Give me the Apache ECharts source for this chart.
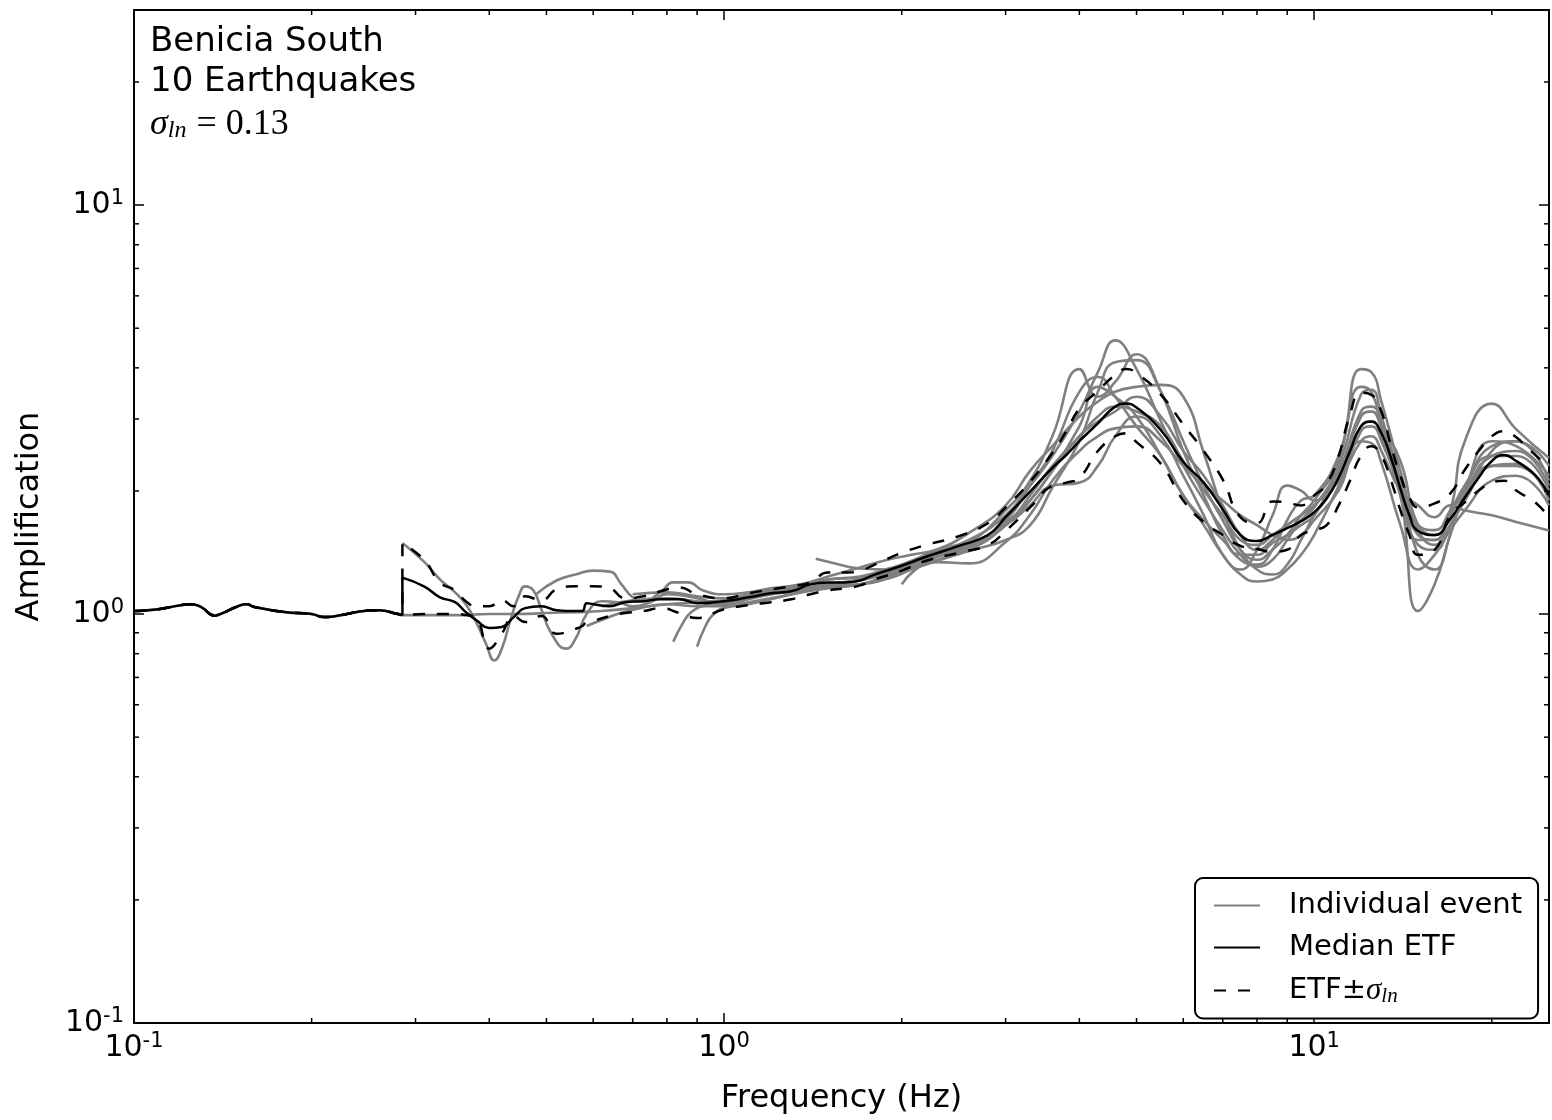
<!DOCTYPE html>
<html><head><meta charset="utf-8">
<script src="https://cdn.jsdelivr.net/npm/echarts@6/dist/echarts.min.js"></script>
<style>html,body{margin:0;padding:0;background:#fff}#c{width:1552px;height:1120px}</style>
</head><body><div id="c"></div>
<script>
// ---------- data ----------
const lowFreq = [0.1,0.11,0.12,0.125,0.13,0.137,0.14,0.15,0.155,0.16,0.18,0.2,0.21,0.22,0.25,0.26,0.28,0.285];
const lowAmp  = [1.017,1.028,1.051,1.057,1.040,0.991,1.000,1.045,1.057,1.040,1.011,1.000,0.983,0.989,1.020,1.022,1.000,0.994];

const etfFreq = [0.285,0.31,0.33,0.35,0.365,0.38,0.40,0.42,0.44,0.46,0.49,0.52,0.56,0.575,0.585,0.6,0.64,0.68,0.73,0.78,0.84,0.9,1.0,1.1,1.2,1.3,1.4,1.5,1.6,1.7,1.8,2.0,2.2,2.5,2.8,3.0,3.3,3.6,3.8,4.0,4.3,4.6,4.8,5.0,5.5,6.0,6.5,7.0,7.5,8.0,8.5,9.0,9.5,10,10.5,11,11.5,12,12.5,13,13.5,14,14.5,15,16,17,18,19,20,21,22,23,24,25];
const medianAmp = [1.228,1.169,1.099,1.069,1.011,0.967,0.925,0.930,0.983,1.034,1.045,1.022,1.017,1.017,1.063,1.057,1.045,1.069,1.075,1.087,1.087,1.063,1.075,1.099,1.124,1.137,1.182,1.195,1.195,1.208,1.249,1.313,1.381,1.468,1.561,1.725,1.993,2.278,2.448,2.647,2.926,3.216,3.271,3.199,2.814,2.355,2.096,1.803,1.561,1.509,1.561,1.623,1.687,1.774,1.917,2.154,2.504,2.877,2.958,2.768,2.408,2.027,1.744,1.596,1.561,1.706,1.928,2.154,2.368,2.448,2.368,2.266,2.142,1.949];
const upperAmp = [1.492,1.358,1.195,1.143,1.075,1.045,1.045,1.081,1.045,1.105,1.081,1.149,1.169,1.169,1.169,1.169,1.156,1.093,1.105,1.137,1.162,1.118,1.093,1.124,1.149,1.169,1.195,1.263,1.263,1.277,1.321,1.412,1.476,1.551,1.668,1.823,2.107,2.476,2.798,3.180,3.516,3.842,3.972,3.885,3.437,2.909,2.504,2.131,1.725,1.668,1.885,1.875,1.844,1.949,2.084,2.435,3.076,3.476,3.437,3.128,2.574,2.179,1.928,1.823,1.865,1.971,2.253,2.504,2.721,2.798,2.706,2.546,2.408,2.278];
const lowerAmp = [0.994,1.000,1.000,1.000,0.994,0.978,0.823,0.895,0.989,0.956,0.989,0.895,0.920,0.935,0.956,0.962,0.989,1.006,1.017,1.034,1.006,0.978,1.028,1.051,1.069,1.087,1.118,1.143,1.156,1.175,1.215,1.277,1.350,1.412,1.476,1.596,1.823,2.061,2.096,2.154,2.504,2.721,2.768,2.632,2.329,1.896,1.677,1.561,1.468,1.443,1.420,1.436,1.561,1.604,1.650,1.844,2.119,2.435,2.574,2.435,2.119,1.793,1.561,1.396,1.436,1.744,1.875,2.004,2.096,2.119,2.004,1.928,1.844,1.725];

// individual events: low-frequency part + values on a shared grid from 1 Hz
const evHfFreq = [1.0,1.1,1.2,1.35,1.5,1.7,1.9,2.1,2.3,2.6,3.0,3.3,3.6,4.0,4.3,4.6,5.0,5.5,6.0,6.5,7.0,7.5,8.0,8.5,9.0,9.5,10,11,12,12.5,13,14,15,16,17,18,20,22,25];

const ev1LowF = [0.3,0.35,0.4,0.45,0.5,0.56,0.62,0.7,0.8,0.9];
const ev1LowA = [0.994,0.994,1.0,1.0,1.006,1.011,1.017,1.034,1.057,1.069];
const ev1Hf = [1.081,1.105,1.130,1.169,1.215,1.235,1.292,1.350,1.427,1.518,1.744,2.061,2.435,3.128,3.906,4.668,3.972,2.958,2.303,1.896,1.604,1.396,1.306,1.358,1.518,1.696,1.823,2.303,3.438,3.535,3.042,2.119,1.396,1.285,1.560,2.004,2.647,2.574,2.179];

const ev2LowF = [0.285,0.31,0.33,0.35,0.365,0.38,0.395,0.408,0.42,0.435,0.45,0.46,0.475,0.49,0.51,0.54,0.56,0.585,0.62,0.66,0.7,0.75,0.8,0.9];
const ev2LowA = [1.492,1.343,1.215,1.130,1.057,0.956,0.846,0.770,0.823,0.973,1.118,1.169,1.143,1.028,0.895,0.823,0.870,1.000,1.075,1.069,1.045,1.069,1.118,1.093];
const ev2Hf = [1.057,1.087,1.118,1.156,1.182,1.215,1.263,1.321,1.396,1.492,1.793,2.119,2.721,3.972,3.400,3.695,4.318,3.495,2.504,1.949,1.560,1.358,1.321,1.436,1.696,1.896,1.949,2.435,3.594,3.495,2.877,2.004,1.518,1.518,1.744,2.004,2.435,2.504,2.061];

const ev3LowF = [0.48,0.52,0.56,0.6,0.64,0.67,0.7,0.73,0.78,0.82,0.87,0.92];
const ev3LowA = [1.118,1.208,1.249,1.277,1.270,1.182,1.099,1.075,1.130,1.195,1.195,1.143];
const ev3Hf = [1.118,1.130,1.156,1.182,1.235,1.300,1.360,1.400,1.440,1.580,1.844,2.240,2.574,3.042,3.306,3.495,3.594,3.634,3.400,2.476,1.793,1.436,1.285,1.249,1.321,1.518,1.744,2.179,3.042,3.128,2.877,2.368,1.650,1.560,1.793,2.647,3.270,2.829,2.408];

const ev4LowF = [0.585,0.62,0.66,0.72,0.8,0.9];
const ev4LowA = [0.935,0.967,1.0,1.034,1.057,1.045];
const ev4Hf = [1.045,1.069,1.093,1.130,1.156,1.182,1.235,1.292,1.358,1.436,1.650,1.896,2.240,2.877,3.594,3.400,3.042,2.435,1.949,1.650,1.396,1.249,1.201,1.215,1.285,1.396,1.560,2.061,2.798,2.877,2.647,1.949,1.017,1.182,1.560,1.949,2.303,2.303,1.949];

const ev5LowF = [0.82,0.85,0.88,0.93];
const ev5LowA = [0.856,0.946,1.011,1.051];
const ev5Hf = [1.069,1.093,1.118,1.143,1.169,1.182,1.249,1.306,1.340,1.330,1.500,1.750,2.119,2.504,2.721,2.845,2.877,2.647,2.303,2.061,1.896,1.744,1.650,1.560,1.518,1.560,1.696,2.004,2.647,2.617,2.342,1.650,1.285,1.396,1.604,1.793,2.119,2.179,1.844];

const ev6LowF = [0.9,0.93,0.96];
const ev6LowA = [0.832,0.935,1.0];
const ev6Hf = [1.034,1.057,1.087,1.130,1.169,1.182,1.222,1.292,1.350,1.427,1.518,1.650,2.038,2.647,3.495,4.130,4.177,3.495,2.647,2.061,1.696,1.436,1.358,1.436,1.560,1.744,1.896,2.368,3.972,3.906,3.306,2.240,1.604,1.476,1.650,1.896,2.504,2.647,2.303];

const ev7LowF = [0.7,0.8,0.9];
const ev7LowA = [1.118,1.130,1.105];
const ev7Hf = [1.093,1.118,1.143,1.182,1.215,1.228,1.285,1.358,1.436,1.492,1.650,1.844,2.061,2.096,2.303,2.721,3.042,2.721,2.179,1.744,1.396,1.285,1.436,1.744,2.061,2.004,1.896,2.119,2.647,2.721,2.504,2.004,1.844,1.725,1.844,1.793,1.744,1.680,1.600];

const ev8LowF = [0.62,0.7,0.8,0.9];
const ev8LowA = [1.045,1.081,1.093,1.075];
const ev8Hf = [1.063,1.093,1.118,1.149,1.182,1.208,1.263,1.336,1.412,1.476,1.696,2.061,2.504,3.495,3.799,3.400,2.877,2.435,1.949,1.696,1.518,1.396,1.396,1.492,1.560,1.650,1.744,2.203,3.128,3.216,2.958,2.061,1.560,1.518,1.744,2.061,2.435,2.435,2.004];

const ev9LowF = [1.43];
const ev9LowA = [1.366];
const ev9Hf = [null,null,null,null,1.343,1.292,1.285,1.336,1.396,1.459,1.677,1.896,2.240,2.721,2.958,3.128,3.400,3.042,2.504,2.179,1.844,1.560,1.436,1.518,1.650,1.744,1.844,2.240,3.042,3.128,2.877,2.061,1.650,1.604,1.793,2.061,2.574,2.647,2.119];

const ev10LowF = [2.0];
const ev10LowA = [1.182];
const ev10Hf = [null,null,null,null,null,null,null,1.277,1.381,1.436,1.650,1.949,2.303,2.721,3.042,3.216,3.128,2.877,2.368,2.004,1.744,1.518,1.476,1.560,1.650,1.744,1.844,2.179,2.877,2.958,2.721,1.949,1.476,1.436,1.650,1.896,2.303,2.329,1.896];

const xMinorTicks = [0.2,0.3,0.4,0.5,0.6,0.7,0.8,0.9,2,3,4,5,6,7,8,9,20];
const yMinorTicks = [0.2,0.3,0.4,0.5,0.6,0.7,0.8,0.9,2,3,4,5,6,7,8,9,20];

const titleLines = ['Benicia South', '10 Earthquakes'];
const sigmaValue = '0.13';

// ---------- build ----------
const FONT = '"DejaVu Sans", sans-serif';
const SERIF = '"Liberation Serif", serif';
const pair = (fs, as) => fs.map((f, i) => [f, as[i]]);
function buildEvent(lf, la, hf) {
  const d = pair(lf, la);
  evHfFreq.forEach((f, i) => { if (hf[i] != null) d.push([f, hf[i]]); });
  return d;
}
const events = [
  buildEvent(lowFreq.concat(ev1LowF), lowAmp.concat(ev1LowA), ev1Hf),
  buildEvent(ev2LowF, ev2LowA, ev2Hf),
  buildEvent(ev3LowF, ev3LowA, ev3Hf),
  buildEvent(ev4LowF, ev4LowA, ev4Hf),
  buildEvent(ev5LowF, ev5LowA, ev5Hf),
  buildEvent(ev6LowF, ev6LowA, ev6Hf),
  buildEvent(ev7LowF, ev7LowA, ev7Hf),
  buildEvent(ev8LowF, ev8LowA, ev8Hf),
  buildEvent(ev9LowF, ev9LowA, ev9Hf),
  buildEvent(ev10LowF, ev10LowA, ev10Hf)
];
const lowData = pair(lowFreq, lowAmp);
const medianData = pair(etfFreq, medianAmp);
const upperData = pair(etfFreq, upperAmp);
const lowerData = pair(etfFreq, lowerAmp);

const SM = 0.5;
const series = [];
events.forEach(d => series.push({
  name: 'Individual event', type: 'line', data: d, symbol: 'none', smooth: SM,
  lineStyle: { color: '#808080', width: 2.6 }, itemStyle: { color: '#808080' }, z: 2, silent: true
}));
const dashStyle = { color: '#000', width: 2.5, type: [12, 12] };
series.push({ name: 'ETF±σln', type: 'line', data: lowData.concat(upperData), symbol: 'none', smooth: SM,
  lineStyle: dashStyle, itemStyle: { color: '#000' }, z: 3, silent: true });
series.push({ name: 'ETF±σln', type: 'line', data: lowData.concat(lowerData), symbol: 'none', smooth: SM,
  lineStyle: dashStyle, itemStyle: { color: '#000' }, z: 3, silent: true });
series.push({ name: 'Median ETF', type: 'line', data: lowData.concat(medianData), symbol: 'none', smooth: SM,
  lineStyle: { color: '#000', width: 2.5 }, itemStyle: { color: '#000' }, z: 4, silent: true });

// minor ticks (log positions) drawn through the axes' own scales
series.push({
  type: 'custom', silent: true, clip: false, z: 5,
  data: xMinorTicks.map(v => [v, 1]),
  renderItem: (params, api) => {
    const cs = params.coordSys; const x = api.coord([api.value(0), 1])[0];
    return { type: 'group', children: [
      { type: 'line', shape: { x1: x, y1: cs.y + cs.height, x2: x, y2: cs.y + cs.height - 5 }, style: { stroke: '#000', lineWidth: 1.5 } },
      { type: 'line', shape: { x1: x, y1: cs.y, x2: x, y2: cs.y + 5 }, style: { stroke: '#000', lineWidth: 1.5 } }
    ]};
  }
});
series.push({
  type: 'custom', silent: true, clip: false, z: 5,
  data: yMinorTicks.map(v => [1, v]),
  renderItem: (params, api) => {
    const cs = params.coordSys; const y = api.coord([1, api.value(1)])[1];
    return { type: 'group', children: [
      { type: 'line', shape: { x1: cs.x, y1: y, x2: cs.x + 5, y2: y }, style: { stroke: '#000', lineWidth: 1.5 } },
      { type: 'line', shape: { x1: cs.x + cs.width, y1: y, x2: cs.x + cs.width - 5, y2: y }, style: { stroke: '#000', lineWidth: 1.5 } }
    ]};
  }
});

function decadeLabel(v) {
  const e = Math.log10(v); const r = Math.round(e);
  if (Math.abs(e - r) > 1e-6) return '';
  return '{b|10}{s|' + r + '}';
}
const labelRich = {
  b: { fontFamily: FONT, fontSize: 30, color: '#000', lineHeight: 34 },
  s: { fontFamily: FONT, fontSize: 21, color: '#000', lineHeight: 14, verticalAlign: 'top' }
};
const axisCommon = {
  axisLine: { show: true, lineStyle: { color: '#000', width: 2 } },
  axisTick: { show: true, inside: true, length: 10, lineStyle: { color: '#000', width: 1.5 } },
  splitLine: { show: false }, minorTick: { show: false }
};

const option = {
  animation: false,
  backgroundColor: '#fff',
  grid: { left: 134, right: 3, top: 10, bottom: 86, containLabel: false },
  xAxis: [
    Object.assign({ type: 'log', logBase: 10, min: 0.1, max: 25, position: 'bottom',
      axisLabel: { formatter: decadeLabel, rich: labelRich, margin: 8 },
      name: 'Frequency (Hz)', nameLocation: 'middle', nameGap: 60,
      nameTextStyle: { fontFamily: FONT, fontSize: 32, color: '#000' } }, axisCommon),
    Object.assign({ type: 'log', logBase: 10, min: 0.1, max: 25, position: 'top',
      axisLabel: { show: false } }, axisCommon)
  ],
  yAxis: [
    Object.assign({ type: 'log', logBase: 10, min: 0.1, max: 30, position: 'left',
      axisLabel: { formatter: decadeLabel, rich: labelRich, margin: 10 },
      name: 'Amplification', nameLocation: 'middle', nameGap: 88, nameRotate: 90,
      nameTextStyle: { fontFamily: FONT, fontSize: 32, color: '#000' } }, axisCommon),
    Object.assign({ type: 'log', logBase: 10, min: 0.1, max: 30, position: 'right',
      axisLabel: { show: false } }, axisCommon)
  ],
  legend: {
    data: ['Individual event', 'Median ETF', 'ETF±σln'],
    orient: 'vertical', left: 1195, top: 878,
    itemWidth: 46, itemHeight: 14, itemGap: 13,
    padding: [13, 16, 12, 18],
    borderColor: '#000', borderWidth: 2, borderRadius: 8, backgroundColor: '#fff',
    selectedMode: false,
    itemStyle: { opacity: 0 },
    textStyle: { fontFamily: FONT, fontSize: 29, color: '#000', padding: [0, 0, 0, 24],
      rich: {
        n: { fontFamily: FONT, fontSize: 29, color: '#000', lineHeight: 32 },
        g: { fontFamily: SERIF, fontStyle: 'italic', fontSize: 31, color: '#000', lineHeight: 32 },
        u: { fontFamily: SERIF, fontStyle: 'italic', fontSize: 21, color: '#000', lineHeight: 10, verticalAlign: 'bottom' }
      } },
    formatter: name => name === 'ETF±σln' ? '{n|ETF±}{g|σ}{u|ln}' : name
  },
  graphic: [
    { type: 'text', left: 150, top: 25, style: { text: titleLines[0], font: '34px ' + FONT, fill: '#000' } },
    { type: 'text', left: 150, top: 65, style: { text: titleLines[1], font: '34px ' + FONT, fill: '#000' } },
    { type: 'text', left: 150, top: 107, style: {
      text: '{g|σ}{u|ln}{q|=}{e|' + sigmaValue + '}', fill: '#000',
      rich: {
        g: { fontFamily: SERIF, fontStyle: 'italic', fontSize: 36, lineHeight: 36 },
        u: { fontFamily: SERIF, fontStyle: 'italic', fontSize: 24, lineHeight: 10, verticalAlign: 'bottom' },
        q: { fontFamily: SERIF, fontSize: 36, lineHeight: 36, padding: [0, 9, 0, 10] },
        e: { fontFamily: SERIF, fontSize: 36, lineHeight: 36 }
      } } }
  ],
  series: series
};
const chart = echarts.init(document.getElementById('c'), null, { renderer: 'canvas' });
chart.setOption(option);
</script></body></html>
